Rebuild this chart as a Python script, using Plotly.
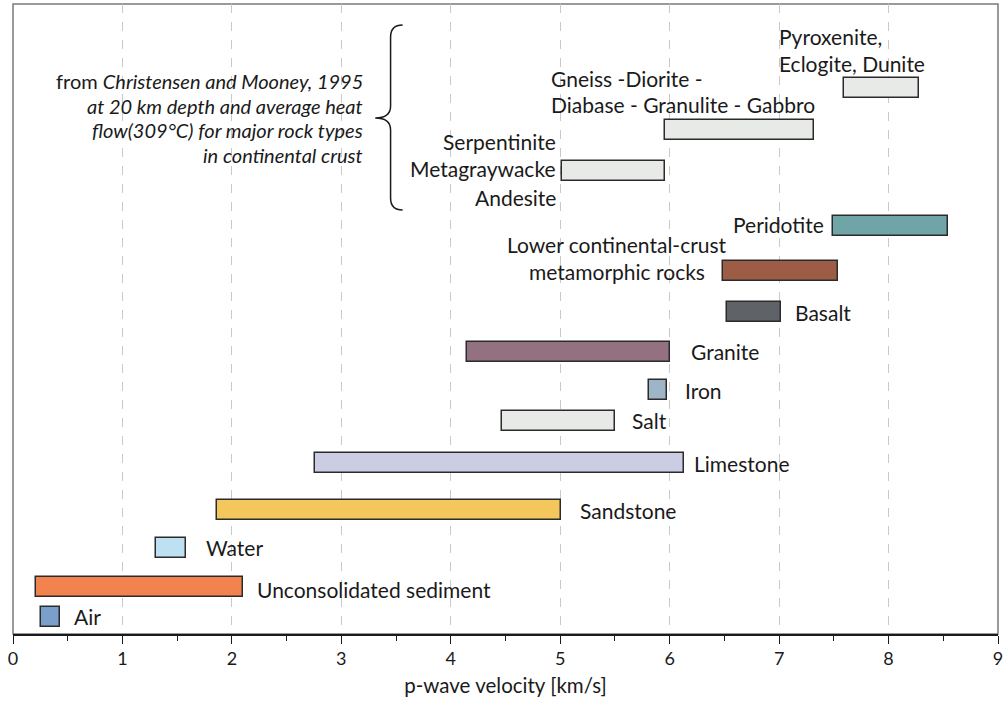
import plotly.graph_objects as go

# P-wave velocity ranges (km/s) for common Earth materials
materials = [
    "Air", "Unconsolidated sediment", "Water", "Sandstone", "Limestone",
    "Salt", "Iron", "Granite", "Basalt",
    "Lower continental-crust metamorphic rocks", "Peridotite",
    "Serpentinite / Metagraywacke / Andesite",
    "Gneiss / Diorite / Diabase / Granulite / Gabbro",
    "Pyroxenite / Eclogite / Dunite",
]
vp_min = [0.26, 0.21, 1.31, 1.86, 2.76, 4.47, 5.81, 4.15, 6.52, 6.49, 7.49, 5.02, 5.96, 7.59]
vp_max = [0.43, 2.10, 1.58, 5.01, 6.13, 5.50, 5.98, 6.00, 7.02, 7.54, 8.54, 5.96, 7.32, 8.28]

# ---- layout / styling ----
row_level = [17.5, 47.5, 86.5, 124, 171, 213, 244, 282, 322, 363.5, 408.5, 463.3, 504.5, 546]
fill = ["#7a9fca", "#f2834f", "#bde0f2", "#f3c75c", "#cbcde4", "#e8eae7", "#9db5c7",
        "#937181", "#5f6368", "#9c5c45", "#70a5a7", "#e8eae7", "#e8eae7", "#e8eae7"]

FONT = "Lato"
INK = "#1a1a1a"
TXT = dict(family=FONT, size=21, color=INK)
NOTE = dict(family=FONT, size=20, color=INK)

fig = go.Figure()
for name, lo, hi, lvl, col in zip(materials, vp_min, vp_max, row_level, fill):
    fig.add_trace(go.Bar(
        y=[lvl], x=[hi - lo], base=[lo], orientation="h", width=20,
        marker=dict(color=col, line=dict(color="#2b2b2b", width=1.5)),
        name=name, showlegend=False, hoverinfo="skip",
    ))

# bar labels: (text, x, level, xanchor)
labels = [
    ("Air", 0.535, 18, "left"),
    ("Unconsolidated sediment", 2.213, 45, "left"),
    ("Water", 1.741, 87, "left"),
    ("Sandstone", 5.16, 124, "left"),
    ("Limestone", 6.20, 171, "left"),
    ("Salt", 5.64, 214, "left"),
    ("Iron", 6.12, 244, "left"),
    ("Granite", 6.18, 283, "left"),
    ("Basalt", 7.13, 322, "left"),
    ("Lower continental-crust", 5.517, 390, "center"),
    ("metamorphic rocks", 5.517, 362.5, "center"),
    ("Peridotite", 7.43, 410, "right"),
    ("Serpentinite", 4.98, 493, "right"),
    ("Metagraywacke", 4.98, 466, "right"),
    ("Andesite", 4.98, 437, "right"),
    ("Gneiss -Diorite -", 4.895, 556, "left"),
    ("Diabase - Granulite - Gabbro", 4.895, 530, "left"),
    ("Pyroxenite,<br>Eclogite, Dunite", 6.98, 584, "left"),
]
for text, x, y, anchor in labels:
    fig.add_annotation(x=x, y=y, text=text, xanchor=anchor, yanchor="middle",
                       align="left", showarrow=False, font=TXT)

# source note with brace
note_lines = [
    "from <i>Christensen and Mooney, 1995</i>",
    "<i>at 20 km depth and average heat</i>",
    "<i>flow(309°C) for major rock types</i>",
    "<i>in continental crust</i>",
]
for i, line in enumerate(note_lines):
    fig.add_annotation(x=3.213, y=553 - 24.5 * i, text=line, xanchor="right",
                       yanchor="middle", showarrow=False, font=NOTE)

fig.add_shape(
    type="path", xref="x", yref="y",
    path=("M 3.56 609 Q 3.45 609 3.45 597 L 3.45 528 "
          "Q 3.45 516 3.31 516 Q 3.45 516 3.45 504 L 3.45 436 "
          "Q 3.45 424 3.56 424"),
    line=dict(color=INK, width=1.5),
)

# frame on left/top/right
fig.add_shape(type="rect", xref="paper", yref="paper", x0=0, x1=1, y0=0, y1=1,
              line=dict(color="#7a7a7a", width=1.5), layer="below")

fig.update_layout(
    width=1007, height=702,
    margin=dict(l=13, r=9, t=4, b=68),
    plot_bgcolor="white", paper_bgcolor="white",
    bargap=0, barmode="overlay",
    font=TXT,
)
fig.update_xaxes(
    range=[0, 9], tickmode="linear", tick0=0, dtick=1,
    showline=True, linecolor=INK, linewidth=1.5,
    ticks="outside", ticklen=8, tickwidth=1.2, tickcolor=INK,
    minor=dict(dtick=0.5, ticks="outside", ticklen=5, tickwidth=1.2,
               tickcolor=INK, showgrid=False),
    showgrid=True, gridcolor="#c9c9c9", griddash="dash", gridwidth=1,
    zeroline=False,
    tickfont=dict(family=FONT, size=18, color=INK),
    title=dict(text="p-wave velocity [km/s]", standoff=10,
               font=dict(family=FONT, size=20.5, color=INK)),
)
fig.update_yaxes(range=[0, 630], visible=False, showgrid=False, zeroline=False)

fig.write_html("out.html")
